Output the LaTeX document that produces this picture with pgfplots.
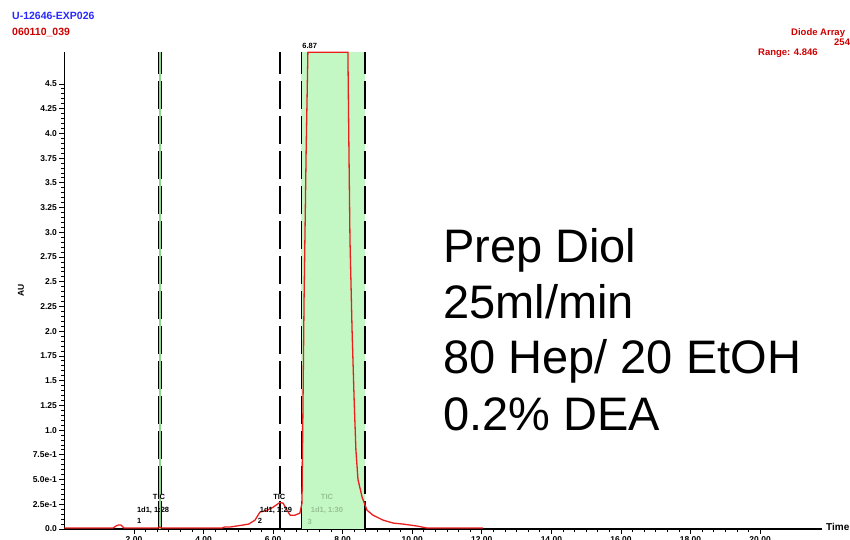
\documentclass[border=0pt]{standalone}
\usepackage{fontspec}
\setmainfont{Liberation Sans}
\usepackage{pgfplots}
\pgfplotsset{compat=1.18}
\definecolor{trace}{RGB}{235,30,30}
\definecolor{fracfill}{RGB}{195,247,195}
\definecolor{fracline}{RGB}{140,215,140}
\definecolor{hdrblue}{RGB}{40,40,255}
\definecolor{hdrred}{RGB}{205,0,0}
\definecolor{fractext}{RGB}{150,195,150}
\begin{document}
\begin{tikzpicture}[x=1pt,y=1pt]
\begin{axis}[
  at={(64.4pt,10pt)}, anchor=south west,
  scale only axis, width=757.6pt, height=477pt,
  xmin=0, xmax=21.78, ymin=0, ymax=4.823,
  axis x line=bottom, axis y line=left,
  axis line style={-, line width=1.2pt},
  tick align=outside,
  xtick={2,4,6,8,10,12,14,16,18,20},
  xticklabels={2.00,4.00,6.00,8.00,10.00,12.00,14.00,16.00,18.00,20.00},
  minor x tick num=5,
  ytick={0,0.25,0.5,0.75,1,1.25,1.5,1.75,2,2.25,2.5,2.75,3,3.25,3.5,3.75,4,4.25,4.5},
  yticklabels={0.0,2.5e-1,5.0e-1,7.5e-1,1.0,1.25,1.5,1.75,2.0,2.25,2.5,2.75,3.0,3.25,3.5,3.75,4.0,4.25,4.5},
  minor y tick num=4,
  major tick length=5pt, minor tick length=3pt,
  every tick/.style={black, line width=0.8pt},
  ticklabel style={font=\fontsize{8.5}{9}\selectfont\bfseries},
  yticklabel style={xshift=1pt},
  xticklabel style={yshift=1pt},
  clip=false,
]
% fraction 3 region
\addplot[fill=fracfill, draw=none] coordinates {(6.81,0) (6.81,4.823) (8.64,4.823) (8.64,0)} -- cycle;
% fraction 1 marker
\addplot[fracline, line width=2.5pt] coordinates {(2.75,0) (2.75,4.823)};
\addplot[black, line width=1.1pt, dash pattern=on 28pt off 7pt] coordinates {(2.70,0) (2.70,4.823)};
\addplot[black, line width=1.1pt, dash pattern=on 28pt off 7pt] coordinates {(2.80,0) (2.80,4.823)};
% fraction 2 marker
\addplot[black, line width=2.6pt, dash pattern=on 28pt off 7pt] coordinates {(6.20,0) (6.20,4.823)};
% fraction 3 edges
\addplot[black, line width=1.3pt, dash pattern=on 28pt off 7pt] coordinates {(6.81,0) (6.81,4.823)};
\addplot[black, line width=1.3pt, dash pattern=on 28pt off 7pt] coordinates {(8.64,0) (8.64,4.823)};
% trace
\addplot[trace, line width=1.3pt] coordinates {
(0,0.01)(1.40,0.01)(1.48,0.03)(1.55,0.04)(1.63,0.04)(1.71,0.01)(2.68,0.01)(2.73,0.02)(2.80,0.01)
(4.53,0.01)(4.60,0.02)(4.76,0.02)(5.13,0.04)(5.30,0.05)(5.48,0.09)(5.62,0.17)(5.83,0.19)(6.00,0.22)
(6.20,0.27)(6.29,0.26)(6.40,0.19)(6.49,0.14)(6.63,0.14)(6.77,0.16)(6.83,0.26)(6.89,2.32)(6.95,3.83)
(7.00,4.82)(8.15,4.82)(8.18,3.83)(8.21,2.92)(8.27,2.01)(8.33,1.30)(8.38,0.80)(8.44,0.50)(8.56,0.32)
(8.70,0.19)(8.87,0.14)(9.16,0.09)(9.45,0.06)(9.73,0.05)(10.14,0.03)(10.42,0.01)(12.04,0.01)};
% annotations
\tikzset{ann/.style={font=\fontsize{7.5}{8}\selectfont\bfseries, inner sep=0pt}}
\node[ann] at (axis cs:2.72,0.32) {TIC};
\node[ann] at (axis cs:2.55,0.19) {1d1, 1:28};
\node[ann] at (axis cs:2.15,0.08) {1};
\node[ann] at (axis cs:6.18,0.32) {TIC};
\node[ann] at (axis cs:6.08,0.19) {1d1, 1:29};
\node[ann] at (axis cs:5.62,0.08) {2};
\node[ann, text=fractext] at (axis cs:7.55,0.32) {TIC};
\node[ann, text=fractext] at (axis cs:7.55,0.19) {1d1, 1:30};
\node[ann, text=fractext] at (axis cs:7.05,0.07) {3};
\node[ann, anchor=south] at (axis cs:7.05,4.823) [yshift=3pt] {6.87};
\end{axis}
% axis titles
\node[font=\fontsize{8.5}{9}\selectfont\bfseries, rotate=90] at (21,249) {AU};
\node[font=\fontsize{10}{11}\selectfont\bfseries, anchor=west, inner sep=0pt] at (826,12) {Time};
% header
\node[font=\fontsize{10.5}{11}\selectfont\bfseries, text=hdrblue, anchor=base west, inner sep=0pt] at (12,519) {U-12646-EXP026};
\node[font=\fontsize{10.5}{11}\selectfont\bfseries, text=hdrred, anchor=base west, inner sep=0pt] at (12,503) {060110\_039};
\node[font=\fontsize{9.5}{10}\selectfont\bfseries, text=hdrred, anchor=base west, inner sep=0pt] at (791,503) {Diode Array};
\node[font=\fontsize{9.5}{10}\selectfont\bfseries, text=hdrred, anchor=base west, inner sep=0pt] at (834,493) {254};
\node[font=\fontsize{9.5}{10}\selectfont\bfseries, text=hdrred, anchor=base west, inner sep=0pt] at (758,483) {Range: 4.846};
% big annotation
\tikzset{big/.style={font=\fontsize{47}{56}\selectfont, anchor=base west, inner sep=0pt}}
\node[big] at (443,277) {Prep Diol};
\node[big] at (443,221) {25ml/min};
\node[big] at (443,166) {80 Hep/ 20 EtOH};
\node[big] at (443,109) {0.2\% DEA};
\pgfresetboundingbox
\useasboundingbox (0,0) rectangle (850,539);
\end{tikzpicture}
\end{document}
